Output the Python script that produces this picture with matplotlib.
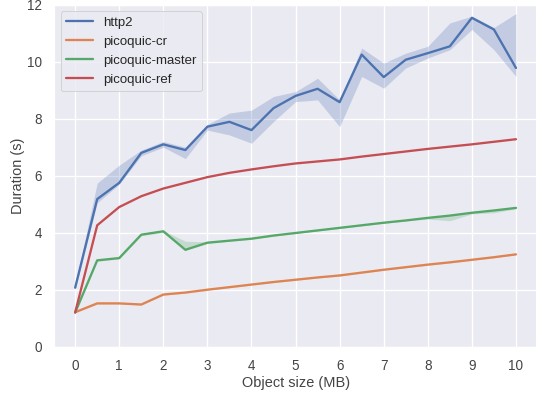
import matplotlib
matplotlib.use("Agg")
import matplotlib.pyplot as plt
import seaborn as sns

sizes = [0, 0.5, 1, 1.5, 2, 2.5, 3, 3.5, 4, 4.5, 5, 5.5, 6, 6.5, 7, 7.5, 8, 8.5, 9, 9.5, 10]

http2_mean = [2.07, 5.18, 5.75, 6.8, 7.1, 6.9, 7.72, 7.89, 7.6, 8.37, 8.8, 9.05, 8.58, 10.25,
              9.46, 10.07, 10.3, 10.54, 11.54, 11.13, 9.78]
http2_low = [2.0, 5.05, 5.7, 6.7, 7.0, 6.6, 7.6, 7.43, 7.14, 7.9, 8.6, 8.66, 7.72, 9.48,
             9.07, 9.78, 10.13, 10.42, 11.13, 10.42, 9.48]
http2_high = [2.15, 5.74, 6.37, 6.9, 7.2, 7.0, 7.8, 8.2, 8.3, 8.78, 8.95, 9.42, 8.66, 10.48,
              9.95, 10.3, 10.54, 11.36, 11.6, 11.2, 11.69]

cr_mean = [1.21, 1.52, 1.52, 1.48, 1.83, 1.9, 2.0, 2.09, 2.18, 2.27, 2.35, 2.43, 2.5, 2.6,
           2.7, 2.79, 2.88, 2.96, 3.05, 3.14, 3.24]
cr_low = [1.19, 1.5, 1.5, 1.46, 1.81, 1.88, 1.98, 2.07, 2.16, 2.25, 2.33, 2.41, 2.48, 2.58,
          2.68, 2.77, 2.86, 2.94, 3.03, 3.12, 3.22]
cr_high = [1.23, 1.54, 1.54, 1.5, 1.85, 1.92, 2.02, 2.11, 2.2, 2.29, 2.37, 2.45, 2.52, 2.62,
           2.72, 2.81, 2.9, 2.98, 3.07, 3.16, 3.26]

master_mean = [1.2, 3.03, 3.11, 3.93, 4.05, 3.4, 3.65, 3.72, 3.79, 3.9, 3.99, 4.08, 4.17, 4.26,
               4.35, 4.43, 4.52, 4.6, 4.7, 4.78, 4.87]
master_low = [1.18, 3.0, 3.08, 3.9, 4.0, 3.38, 3.62, 3.7, 3.77, 3.88, 3.97, 4.06, 4.15, 4.24,
              4.33, 4.41, 4.48, 4.42, 4.66, 4.7, 4.84]
master_high = [1.22, 3.06, 3.14, 3.98, 4.08, 3.7, 3.68, 3.75, 3.81, 3.92, 4.01, 4.1, 4.19, 4.28,
               4.37, 4.45, 4.54, 4.62, 4.73, 4.8, 4.9]

ref_mean = [1.2, 4.26, 4.9, 5.28, 5.55, 5.75, 5.95, 6.1, 6.22, 6.33, 6.43, 6.5, 6.57, 6.67,
            6.76, 6.85, 6.94, 7.02, 7.1, 7.19, 7.28]

series = [
    ("http2", http2_mean, http2_low, http2_high),
    ("picoquic-cr", cr_mean, cr_low, cr_high),
    ("picoquic-master", master_mean, master_low, master_high),
    ("picoquic-ref", ref_mean, ref_mean, ref_mean),
]

sns.set_theme(style="darkgrid", rc={"grid.linewidth": 1.3})
plt.rcParams["font.family"] = ["Liberation Sans", "DejaVu Sans"]

fig = plt.figure(figsize=(536 / 72, 394 / 72), dpi=72)
ax = fig.add_axes([54 / 536, 47.3 / 394, 484 / 536, 342 / 394])

colors = sns.color_palette("deep")
for (name, mean, low, high), c in zip(series, colors):
    ax.fill_between(sizes, low, high, color=c, alpha=0.25, linewidth=0)
    ax.plot(sizes, mean, color=c, lw=2.3, label=name)

ax.set_xlim(-0.48, 10.5)
ax.set_ylim(0, 12)
ax.set_xticks(range(0, 11))
ax.set_yticks(range(0, 13, 2))
ax.tick_params(labelsize=13.5, colors="#444444", pad=6)
ax.set_xlabel("Object size (MB)", fontsize=14.5, color="#444444", labelpad=3)
ax.set_ylabel("Duration (s)", fontsize=14.5, color="#444444", labelpad=2)
ax.legend(loc="upper left", fontsize=13.3, borderaxespad=0.5)

fig.savefig("out.png", dpi=72)
